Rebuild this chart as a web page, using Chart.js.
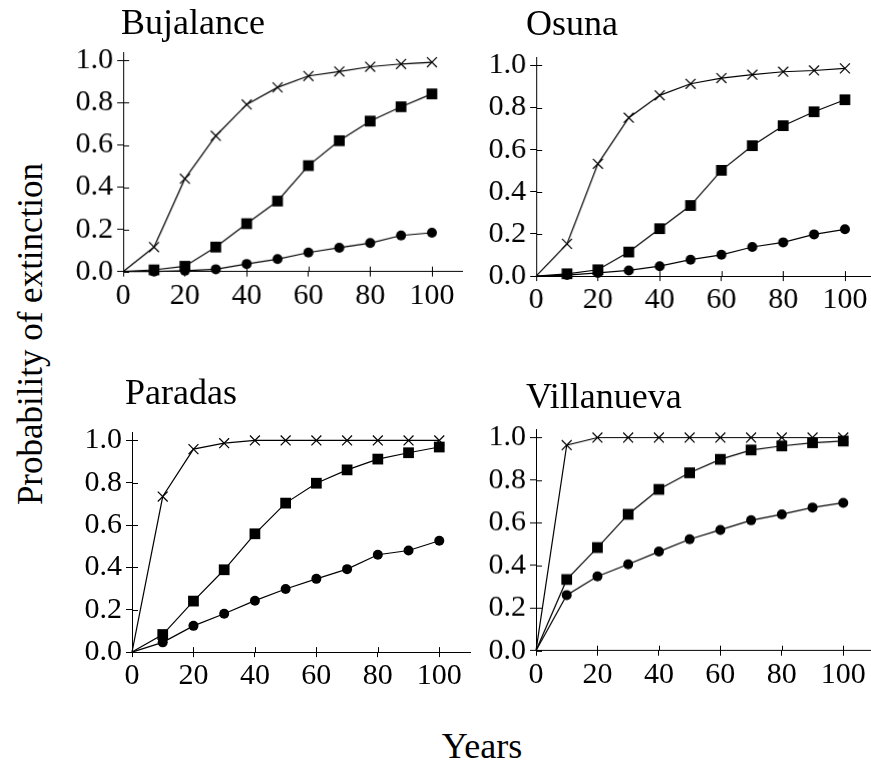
<!DOCTYPE html>
<html>
<head>
<meta charset="utf-8">
<script src="https://cdn.jsdelivr.net/npm/chart.js@4/dist/chart.umd.min.js"></script>
<style>
  html, body { margin: 0; padding: 0; background: #fff; }
  body { width: 871px; height: 764px; position: relative; overflow: hidden; }
  .wrap { position: absolute; }
  .txt { position: absolute; line-height: 1; white-space: nowrap; font-family: "Liberation Serif", serif; color: #000; }
</style>
</head>
<body>
<div class="wrap" id="w0"><canvas id="c0"></canvas></div>
<div class="wrap" id="w1"><canvas id="c1"></canvas></div>
<div class="wrap" id="w2"><canvas id="c2"></canvas></div>
<div class="wrap" id="w3"><canvas id="c3"></canvas></div>
<div class="txt" id="t0" style="font-size:36px"></div>
<div class="txt" id="t1" style="font-size:36px"></div>
<div class="txt" id="t2" style="font-size:36px"></div>
<div class="txt" id="t3" style="font-size:36px"></div>
<div class="txt" style="font-size:35px;left:30px;top:334px;transform:translate(-50%,-50%) rotate(-90deg)">Probability of extinction</div>
<div class="txt" style="font-size:36px;left:482px;top:728px;transform:translateX(-50%)">Years</div>
<script>
// ---------- DATA ----------
const years = [0, 10, 20, 30, 40, 50, 60, 70, 80, 90, 100];
const xTickLabels = [0, 20, 40, 60, 80, 100];
const yTickLabels = ["0.0", "0.2", "0.4", "0.6", "0.8", "1.0"];
const panelNames = ["Bujalance", "Osuna", "Paradas", "Villanueva"];

const bujalanceCross  = [0, 0.116, 0.44, 0.643, 0.792, 0.873, 0.927, 0.948, 0.971, 0.984, 0.992];
const bujalanceSquare = [0, 0.008, 0.025, 0.116, 0.227, 0.334, 0.502, 0.62, 0.713, 0.781, 0.842];
const bujalanceCircle = [0, 0.0, 0.004, 0.011, 0.036, 0.059, 0.09, 0.113, 0.135, 0.171, 0.184];

const osunaCross  = [0, 0.153, 0.533, 0.752, 0.858, 0.913, 0.94, 0.956, 0.97, 0.976, 0.986];
const osunaSquare = [0, 0.011, 0.03, 0.114, 0.225, 0.335, 0.502, 0.619, 0.714, 0.78, 0.837];
const osunaCircle = [0, 0.005, 0.015, 0.027, 0.047, 0.078, 0.101, 0.138, 0.16, 0.198, 0.222];

const paradasCross  = [0, 0.735, 0.959, 0.987, 1.0, 1.0, 1.0, 1.0, 1.0, 1.0, 1.0];
const paradasSquare = [0, 0.083, 0.241, 0.389, 0.559, 0.704, 0.798, 0.861, 0.912, 0.942, 0.969];
const paradasCircle = [0, 0.046, 0.124, 0.181, 0.243, 0.298, 0.346, 0.392, 0.46, 0.48, 0.526];

const villanuevaCross  = [0, 0.965, 1.0, 1.0, 1.0, 1.0, 1.0, 1.0, 1.0, 1.0, 1.0];
const villanuevaSquare = [0, 0.334, 0.484, 0.64, 0.757, 0.835, 0.898, 0.942, 0.961, 0.976, 0.984];
const villanuevaCircle = [0, 0.261, 0.349, 0.405, 0.465, 0.523, 0.567, 0.612, 0.64, 0.672, 0.694];

const panelSeries = [
  [bujalanceCircle, bujalanceSquare, bujalanceCross],
  [osunaCircle, osunaSquare, osunaCross],
  [paradasCircle, paradasSquare, paradasCross],
  [villanuevaCircle, villanuevaSquare, villanuevaCross]
];

// ---------- LAYOUT (pixel geometry of each plot area) ----------
const X_MAX = 110, Y_MAX = 1.04;
const layout = [
  { left: 123,   zeroY: 271,   x100: 431,   y1: 60.7,  title: { x: 121, y: 4 } },
  { left: 536,   zeroY: 275.7, x100: 844,   y1: 65,    title: { x: 526, y: 5 } },
  { left: 131.7, zeroY: 652.3, x100: 439,   y1: 440.7, title: { x: 125, y: 374 } },
  { left: 536,   zeroY: 650,   x100: 843.3, y1: 437.7, title: { x: 526, y: 378 } }
];
const Y_W = 66, X_H = 48, PAD_T = 26, PAD_R = 12;
const TICK_FONT = { family: "'Liberation Serif', serif", size: 30 };

const crossTicksPlugin = {
  id: 'crossTicks',
  afterDraw(chart) {
    const ctx = chart.ctx, xs = chart.scales.x, ys = chart.scales.y;
    const a = chart.chartArea;
    ctx.save();
    ctx.strokeStyle = '#000';
    ctx.lineWidth = 1;
    ctx.beginPath();
    xs.ticks.forEach(t => {
      const px = Math.round(xs.getPixelForValue(t.value)) + 0.5;
      ctx.moveTo(px, a.bottom);
      ctx.lineTo(px, a.bottom - 5);
    });
    ys.ticks.forEach(t => {
      const py = Math.round(ys.getPixelForValue(t.value)) + 0.5;
      ctx.moveTo(a.left, py);
      ctx.lineTo(a.left + 6, py);
    });
    ctx.stroke();
    ctx.restore();
  }
};

const styles = [
  { pointStyle: 'circle', r: 5 },
  { pointStyle: 'rect', r: 7.6 },
  { pointStyle: 'crossRot', r: 7 }
];

panelSeries.forEach((series, i) => {
  const L = layout[i];
  const pxPerX = (L.x100 - L.left) / 100;
  const plotW = pxPerX * X_MAX;
  const pxPerY = L.zeroY - L.y1;
  const plotTop = L.zeroY - pxPerY * Y_MAX;
  const plotH = L.zeroY - plotTop;

  const wrap = document.getElementById('w' + i);
  wrap.style.left = (L.left - Y_W) + 'px';
  wrap.style.top = (plotTop - PAD_T) + 'px';
  wrap.style.width = (Y_W + plotW + PAD_R) + 'px';
  wrap.style.height = (PAD_T + plotH + X_H) + 'px';

  const t = document.getElementById('t' + i);
  t.style.left = L.title.x + 'px';
  t.style.top = L.title.y + 'px';
  t.textContent = panelNames[i];

  const datasets = series.map((vals, k) => ({
    data: years.map((yr, j) => ({ x: yr, y: vals[j] })),
    borderColor: '#000',
    borderWidth: 1.2,
    backgroundColor: '#000',
    pointBackgroundColor: '#000',
    pointBorderColor: '#000',
    pointBorderWidth: styles[k].pointStyle === 'crossRot' ? 1.2 : 0,
    pointStyle: styles[k].pointStyle,
    pointRadius: c => c.dataIndex === 0 ? 0 : styles[k].r,
    tension: 0,
    fill: false,
    clip: false
  }));

  new Chart(document.getElementById('c' + i), {
    type: 'line',
    data: { datasets },
    options: {
      responsive: true,
      maintainAspectRatio: false,
      animation: false,
      events: [],
      layout: { padding: { top: PAD_T, right: PAD_R, left: 0, bottom: 0 } },
      plugins: { legend: { display: false }, tooltip: { enabled: false }, title: { display: false } },
      scales: {
        x: {
          type: 'linear',
          min: 0, max: X_MAX,
          afterFit: s => { s.height = X_H; },
          afterBuildTicks: s => { s.ticks = xTickLabels.map(v => ({ value: v })); },
          grid: { drawOnChartArea: false, drawTicks: true, tickLength: 5, color: '#000', lineWidth: 1 },
          border: { display: true, color: '#000', width: 1 },
          ticks: { color: '#000', font: TICK_FONT, padding: 1, maxRotation: 0, autoSkip: false,
                   callback: v => String(v) }
        },
        y: {
          type: 'linear',
          min: 0, max: Y_MAX,
          afterFit: s => { s.width = Y_W; },
          afterBuildTicks: s => { s.ticks = yTickLabels.map(v => ({ value: parseFloat(v) })); },
          grid: { drawOnChartArea: false, drawTicks: true, tickLength: 6, color: '#000', lineWidth: 1 },
          border: { display: true, color: '#000', width: 1 },
          ticks: { color: '#000', font: TICK_FONT, padding: 4, autoSkip: false,
                   callback: v => yTickLabels[Math.round(v / 0.2)] }
        }
      }
    },
    plugins: [crossTicksPlugin]
  });
});
</script>
</body>
</html>
